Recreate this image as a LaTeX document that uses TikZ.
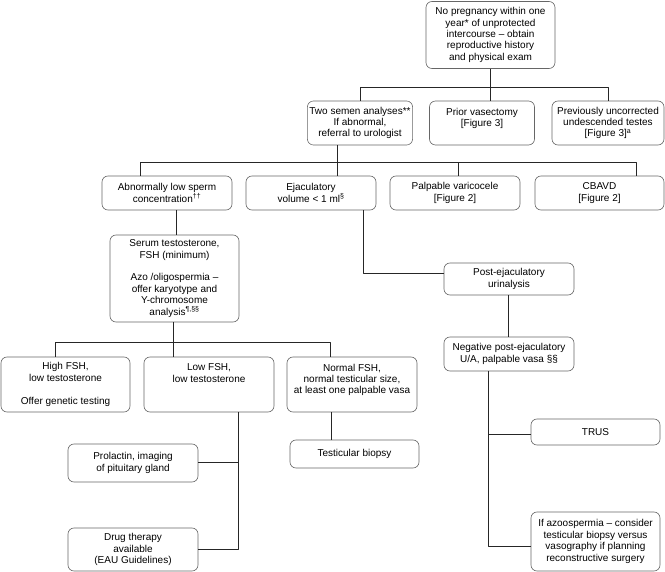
\documentclass[tikz,border=0pt]{standalone}
\usepackage{fontspec}
\setmainfont{Liberation Sans}
\begin{document}
\begin{tikzpicture}[x=1pt,y=-1pt,line join=round,font=\fontsize{10}{11.4}\selectfont,
	box/.style={draw=black!60,line width=0.6pt,rounded corners=6pt,align=center,inner xsep=2pt,inner ysep=1pt},
	link/.style={draw=black!85,line width=1pt}]
			\useasboundingbox (0,0) rectangle (665,572);
			%rails
			\coordinate (r1) at (0,87.5);
			\coordinate (r2) at (0,163);
			\coordinate (r3) at (0,343);
			%Hàng 1-2
			\node[box,minimum width=129pt,minimum height=67pt] (top) at (490.5,35) {No pregnancy within one\\year*  of unprotected\\intercourse -- obtain\\reproductive history\\and physical exam};
			\node[box,minimum width=105pt,minimum height=44pt] (semen) at (360,123) {Two semen analyses**\\If abnormal,\\referral to urologist};
			\node[box,minimum width=105pt,minimum height=44pt] (prior) at (482,123) {Prior vasectomy\\{[Figure 3]}\\\mbox{}};
			\node[box,minimum width=112pt,minimum height=44pt] (prev) at (608,123) {Previously uncorrected\\undescended testes\\{[Figure 3]\textsuperscript{a}}};
			%Hàng 3
			\node[box,minimum width=130pt,minimum height=34pt] (abn) at (167,193) {Abnormally low sperm\\concentration\textsuperscript{††}};
			\node[box,minimum width=130pt,minimum height=34pt] (ejac) at (311,193) {Ejaculatory\\volume < 1 ml\textsuperscript{§}};
			\node[box,minimum width=130pt,minimum height=34pt] (palp) at (455,193) {Palpable varicocele\\{[Figure 2]}};
			\node[box,minimum width=129pt,minimum height=34pt] (cbavd) at (599.5,193) {CBAVD\\{[Figure 2]}};
			%Nhánh trái
			\node[box,minimum width=129pt,minimum height=87pt] (serum) at (174.5,278.5) {Serum testosterone,\\FSH (minimum)\\[11.4pt]Azo /oligospermia --\\offer karyotype and\\Y-chromosome\\analysis\textsuperscript{¶,§§}};
			\node[box,minimum width=129pt,minimum height=55pt] (high) at (65.5,384.5) {High FSH,\\low testosterone\\[11.4pt]Offer genetic testing};
			\node[box,minimum width=130pt,minimum height=55pt] (low) at (209,384.5) {Low FSH,\\low testosterone\\\mbox{}\\\mbox{}};
			\node[box,minimum width=130pt,minimum height=55pt] (normal) at (352,384.5) {Normal FSH,\\normal testicular size,\\at least one palpable vasa\\\mbox{}};
			\node[box,minimum width=130pt,minimum height=38pt] (prol) at (133,463) {Prolactin, imaging\\of pituitary gland};
			\node[box,minimum width=130pt,minimum height=43pt] (drug) at (133,549.5) {Drug therapy\\available\\(EAU Guidelines)};
			\node[box,minimum width=129pt,minimum height=28pt] (biopsy) at (354.5,454) {Testicular biopsy};
			%Nhánh phải
			\node[box,minimum width=130pt,minimum height=32pt] (post) at (509,279) {Post-ejaculatory\\urinalysis};
			\node[box,minimum width=130pt,minimum height=34pt] (neg) at (509,354) {Negative post-ejaculatory\\U/A, palpable vasa §§};
			\node[box,minimum width=129pt,minimum height=26pt] (trus) at (595.5,432) {TRUS};
			\node[box,minimum width=129pt,minimum height=59pt] (azoo) at (595.5,541.5) {If azoospermia -- consider\\testicular biopsy versus\\vasography if planning\\reconstructive surgery};
			%Đường nối
			\coordinate (lowdrop) at ([xshift=29pt]low.south);
			\coordinate (negdrop) at ([xshift=-21pt]neg.south);
			\draw[link] (top.south) -- (top.south |- prior.north);
			\draw[link] (semen.north) |- (prev.north |- r1) -- (prev.north);
			\draw[link] ([xshift=-23pt]semen.south) -- ([xshift=-23pt]semen.south |- ejac.north);
			\draw[link] ([xshift=-27pt]abn.north) |- ([xshift=36.5pt]cbavd.north |- r2) -- ([xshift=36.5pt]cbavd.north);
			\draw[link] ([xshift=3pt]palp.north) -- ([xshift=3pt]palp.north |- r2);
			\draw[link] ([xshift=1.5pt]serum.north) -- ([xshift=1.5pt]serum.north |- abn.south);
			\draw[link] ([xshift=-1.5pt]serum.south) -- ([xshift=-1.5pt]serum.south |- low.north);
			\draw[link] ([xshift=-10.5pt]high.north) |- ([xshift=-22pt]normal.north |- r3) -- ([xshift=-22pt]normal.north);
			\draw[link] (lowdrop) |- (drug.east);
			\draw[link] (prol.east) -- (prol.east -| lowdrop);
			\draw[link] ([xshift=-21pt]normal.south) -- ([xshift=-21pt]normal.south |- biopsy.north);
			\draw[link] ([xshift=52pt]ejac.south) |- ([yshift=5pt]post.west);
			\draw[link] ([xshift=-1pt]post.south) -- ([xshift=-1pt]post.south |- neg.north);
			\draw[link] (negdrop) |- ([yshift=-3pt]trus.west);
			\draw[link] (negdrop) |- ([yshift=-4.5pt]azoo.west);
		\end{tikzpicture}
\end{document}
